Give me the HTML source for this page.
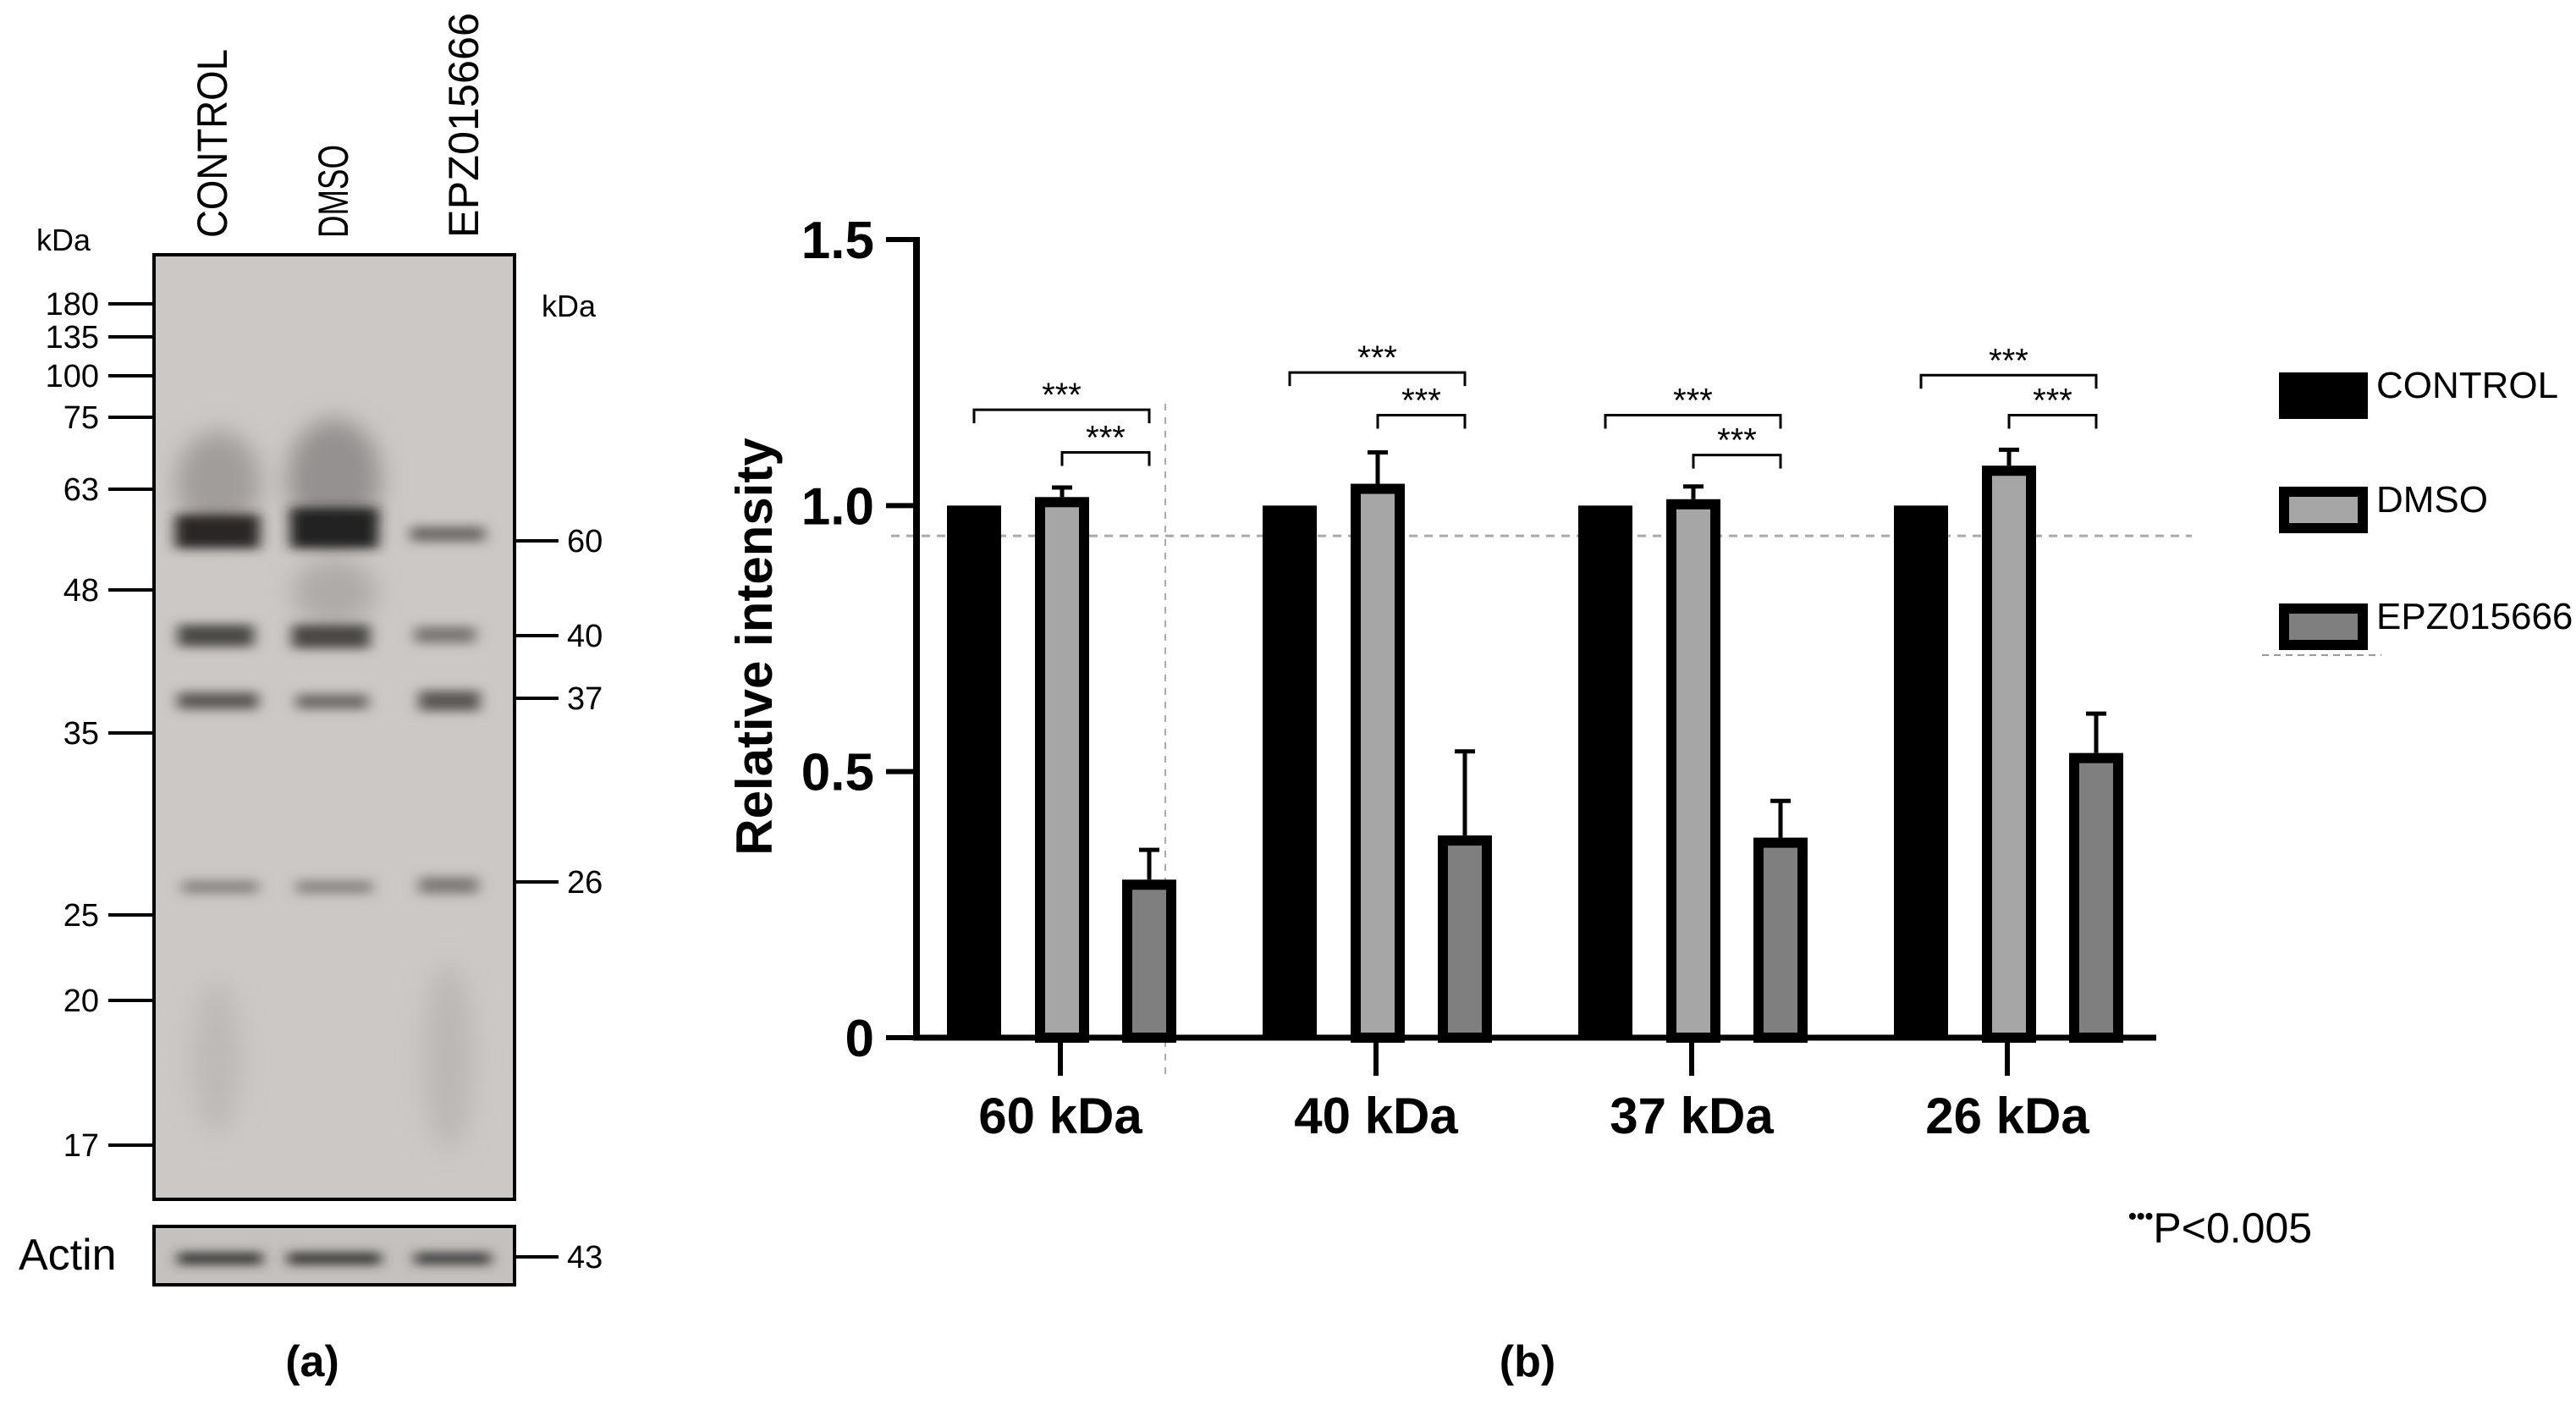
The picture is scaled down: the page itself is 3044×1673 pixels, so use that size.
<!DOCTYPE html>
<html><head><meta charset="utf-8"><style>
html,body{margin:0;padding:0;background:#fff;}
svg{display:block;}
text{font-family:"Liberation Sans",sans-serif;}
</style></head><body>
<svg id="fig" width="3044" height="1673" viewBox="0 0 3044 1673" xmlns="http://www.w3.org/2000/svg">
<defs>
<filter id="blur" x="-30%" y="-200%" width="160%" height="500%"><feGaussianBlur stdDeviation="8 6"/></filter>
<filter id="blur2" x="-30%" y="-50%" width="160%" height="200%"><feGaussianBlur stdDeviation="14"/></filter>
</defs>

<g>
  <rect x="182" y="301" width="426" height="1116" fill="#cbc8c5" stroke="#000" stroke-width="4"/>
  <g>
    <g filter="url(#blur2)">
      <ellipse cx="258" cy="570" rx="50" ry="60" fill="#a09d9b"/>
      <ellipse cx="395" cy="565" rx="55" ry="70" fill="#949190"/>
      <ellipse cx="256" cy="1250" rx="30" ry="90" fill="#bdbab7"/>
      <ellipse cx="530" cy="1250" rx="30" ry="110" fill="#bbb8b5"/>
      <ellipse cx="395" cy="700" rx="50" ry="40" fill="#aeaba9"/>
    </g>
    <g filter="url(#blur)">
      <rect x="207" y="608" width="100" height="40" fill="#2a2828"/>
      <rect x="343" y="600" width="104" height="48" fill="#242222"/>
      <rect x="485" y="622" width="88" height="18" fill="#6d6a68"/>
      <rect x="210" y="738" width="90" height="26" fill="#4a4847"/>
      <rect x="345" y="738" width="92" height="28" fill="#484645"/>
      <rect x="490" y="740" width="72" height="20" fill="#7a7775"/>
      <rect x="210" y="818" width="95" height="20" fill="#5a5857"/>
      <rect x="350" y="820" width="85" height="18" fill="#6e6b69"/>
      <rect x="495" y="816" width="72" height="24" fill="#5a5857"/>
      <rect x="215" y="1040" width="90" height="16" fill="#8a8785"/>
      <rect x="350" y="1040" width="90" height="16" fill="#8a8785"/>
      <rect x="495" y="1036" width="70" height="20" fill="#7e7b79"/>
    </g>
  </g>
  <g font-size="50">
    <text transform="translate(268,281) rotate(-90)" textLength="223" lengthAdjust="spacingAndGlyphs">CONTROL</text>
    <text transform="translate(411,281) rotate(-90)" textLength="110" lengthAdjust="spacingAndGlyphs">DMSO</text>
    <text transform="translate(565,281) rotate(-90)" textLength="266" lengthAdjust="spacingAndGlyphs">EPZ015666</text>
  </g>
  <text x="43" y="296" font-size="36">kDa</text>
  <text x="640" y="374" font-size="36">kDa</text>
  <g id="leftMarkers"></g>
  <g id="rightMarkers"></g>
  <rect x="182" y="1449" width="426" height="69" fill="#c4c1be" stroke="#000" stroke-width="4"/>
  <g filter="url(#blur)">
    <rect x="210" y="1480" width="100" height="14" fill="#333"/>
    <rect x="340" y="1480" width="110" height="14" fill="#333"/>
    <rect x="490" y="1480" width="90" height="14" fill="#3a3a3a"/>
  </g>
  <text x="22" y="1500" font-size="52">Actin</text>
  <text x="369" y="1626" font-size="52" font-weight="bold" text-anchor="middle">(a)</text>
</g>

<g id="chart"></g>
<text x="1805" y="1626" font-size="52" font-weight="bold" text-anchor="middle">(b)</text>
</svg>

<script>
const NS='http://www.w3.org/2000/svg';
function mk(tag,attrs,parent){const e=document.createElementNS(NS,tag);for(const k in attrs)e.setAttribute(k,attrs[k]);parent.appendChild(e);return e;}

// blot ladder
const ladderLabels=['180','135','100','75','63','48','35','25','20','17'];
const ladderY=[359,398,444,493,578,697,866,1081,1182,1353];
const bandLabels=['60','40','37','26','43'];
const bandY=[639,751,825,1042,1485];
const lm=document.getElementById('leftMarkers');
ladderLabels.forEach((l,i)=>{
  const ln=mk('line',{x1:128,x2:182,y1:ladderY[i],y2:ladderY[i],stroke:'#000','stroke-width':4},lm);
  
  
  const t=mk('text',{x:117,y:ladderY[i]+13,'font-size':38,'text-anchor':'end'},lm);
  
  
  t.textContent=l;
});
const rm=document.getElementById('rightMarkers');
bandLabels.forEach((l,i)=>{
  const ln=mk('line',{x1:608,x2:660,y1:bandY[i],y2:bandY[i],stroke:'#000','stroke-width':4},rm);
  
  
  const t=mk('text',{x:670,y:bandY[i]+13,'font-size':38},rm);
  
  
  t.textContent=l;
});

// chart data
const categories=['60 kDa','40 kDa','37 kDa','26 kDa'];
const controlVals=[1.0,1.0,1.0,1.0];
const dmsoVals=[1.016,1.041,1.012,1.075];
const dmsoErr=[0.018,0.059,0.024,0.03];
const epzVals=[0.297,0.38,0.376,0.535];
const epzErr=[0.056,0.158,0.069,0.074];
const yTicks=[0,0.5,1.0,1.5];
const yTickLabels=['0','0.5','1.0','1.5'];
const seriesNames=['CONTROL','DMSO','EPZ015666'];
const refLine=0.943;

const X0=1083,X1=2548,Y0=1226,Y15=283;
const y=v=>Y0-(Y0-Y15)*v/1.5;
const xc=i=>1253+i*373;
const off=[-102,2,105];
const fills=['#000','#a6a6a6','#7f7f7f'];
const BW=64;
const g=document.getElementById('chart');

// reference dashed lines
let e=mk('line',{x1:1053,x2:2590,y1:y(refLine),y2:y(refLine),stroke:'#aaa','stroke-width':3,'stroke-dasharray':'10 8'},g);


e=mk('line',{x1:1377,x2:1377,y1:477,y2:1274,stroke:'#aaa','stroke-width':2,'stroke-dasharray':'8 8'},g);



// bars
const series=[controlVals,dmsoVals,epzVals];
const errs=[null,dmsoErr,epzErr];
categories.forEach((c,i)=>{
  series.forEach((vals,s)=>{
    const cx=xc(i)+off[s];
    if(errs[s]){
      const top=y(vals[i]+errs[s][i]);
      const el=mk('line',{x1:cx,x2:cx,y1:top,y2:y(vals[i]),stroke:'#000','stroke-width':5},g);
      
      
      const cap=mk('line',{x1:cx-12,x2:cx+12,y1:top,y2:top,stroke:'#000','stroke-width':5},g);
      
      
    }
    let r;
    if(s===0){
      r=mk('rect',{x:cx-BW/2,y:y(vals[i]),width:BW,height:Y0-y(vals[i]),fill:'#000'},g);
    }else{
      r=mk('rect',{x:cx-BW/2+6,y:y(vals[i])+6,width:BW-12,height:Y0-y(vals[i])-6,fill:fills[s],stroke:'#000','stroke-width':12},g);
    }
    
    
  });
  const tk=mk('line',{x1:xc(i),x2:xc(i),y1:Y0,y2:Y0+45,stroke:'#000','stroke-width':6},g);
  
  
  const t=mk('text',{x:xc(i),y:1339,'font-size':60,'font-weight':'bold','text-anchor':'middle'},g);
  
  
  t.textContent=c;
});

// significance brackets
const bigBracketVal=[1.18,1.25,1.17,1.245];
const smallBracketVal=[1.10,1.17,1.095,1.17];
categories.forEach((c,i)=>{
  [[bigBracketVal[i],xc(i)+off[0],xc(i)+off[2]],[smallBracketVal[i],xc(i)+off[1],xc(i)+off[2]]].forEach(([v,xa,xb])=>{
    const yy=y(v);
    const p=mk('path',{d:`M${xa} ${yy+16}V${yy}H${xb}V${yy+16}`,fill:'none',stroke:'#000','stroke-width':3},g);
    
    
    const t=mk('text',{x:(xa+xb)/2,y:yy-4,'font-size':40,'text-anchor':'middle'},g);
    
    
    t.textContent='***';
  });
});

// axes
e=mk('line',{x1:X0,x2:X0,y1:Y15-3,y2:Y0+3,stroke:'#000','stroke-width':8},g);


e=mk('line',{x1:X0-4,x2:X1,y1:Y0,y2:Y0,stroke:'#000','stroke-width':7},g);


yTicks.forEach((v,i)=>{
  const tk=mk('line',{x1:X0-36,x2:X0,y1:y(v),y2:y(v),stroke:'#000','stroke-width':6},g);
  
  
  const t=mk('text',{x:X0-50,y:y(v)+22,'font-size':62,'font-weight':'bold','text-anchor':'end'},g);
  
  
  t.textContent=yTickLabels[i];
});
e=mk('text',{transform:'translate(912,764) rotate(-90)','font-size':60,'font-weight':'bold','text-anchor':'middle'},g);


e.textContent='Relative intensity';

// legend
const legY=[440,575,713];
seriesNames.forEach((n,s)=>{
  let r;
  if(s===0) r=mk('rect',{x:2693,y:legY[s],width:105,height:55,fill:'#000'},g);
  else r=mk('rect',{x:2699,y:legY[s]+6,width:93,height:43,fill:fills[s],stroke:'#000','stroke-width':12},g);
  
  
  const t=mk('text',{x:2808,y:legY[s]+30,'font-size':44},g);
  
  
  t.textContent=n;
});
e=mk('line',{x1:2673,x2:2814,y1:774,y2:774,stroke:'#999','stroke-width':2,'stroke-dasharray':'8 6'},g);



// p-value note
e=mk('text',{x:2515,y:1468,'font-size':50},g);


e.innerHTML='<tspan font-size="28" font-weight="bold" dy="-22">•••</tspan><tspan dy="22">P&lt;0.005</tspan>';
</script>
</body></html>
